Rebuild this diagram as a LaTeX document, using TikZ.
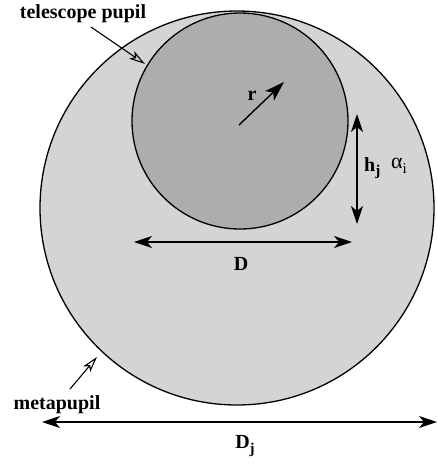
\documentclass[tikz,border=0pt]{standalone}
\usepackage{fontspec}
\setmainfont{Liberation Serif}
\usetikzlibrary{arrows.meta}
\definecolor{metafill}{gray}{0.83}
\definecolor{pupilfill}{gray}{0.68}
\tikzset{
  lbl/.style={font=\bfseries\fontsize{20}{24}\selectfont, inner sep=0pt},
  dim/.style={line width=1.4pt, {Stealth[length=18pt,width=12pt,inset=5pt]}-{Stealth[length=18pt,width=12pt,inset=5pt]}},
  rad/.style={line width=1.4pt, -{Stealth[length=20pt,width=13pt,inset=5pt]}},
  pointer/.style={line width=1.1pt, -{Stealth[open,length=16pt,width=9pt,inset=4pt]}},
  rim/.style={line width=1.3pt, draw=black}
}
\begin{document}
\begin{tikzpicture}[x=1pt,y=-1pt]
\useasboundingbox (0,0) rectangle (437,464);
% circles
\coordinate (C) at (237,208);
\coordinate (c) at (240,121);
\fill[metafill] (C) circle (197);
\draw[rim] (C) circle (197);
\fill[pupilfill] (c) circle (108);
\draw[rim] (c) circle (108);
% radius
\coordinate (r0) at (239,125);
\coordinate (r1) at (284,82);
\draw[rad] (r0) -- (r1);
\node[lbl] (rl) at (252,96) {r};
% h_j
\coordinate (h0) at (357,114);
\coordinate (h1) at (357,224);
\draw[dim] (h0) -- (h1);
\node[lbl, anchor=west] (hl) at (364,168) {h\raisebox{-0.5ex}{\fontsize{15}{16}\selectfont j}};
\node[lbl, anchor=west, font=\fontsize{22}{24}\selectfont] (al) at (391,166) {α\raisebox{-0.5ex}{\fontsize{15}{16}\selectfont i}};
% D
\coordinate (d0) at (134,242);
\coordinate (d1) at (352,242);
\draw[dim] (d0) -- (d1);
\node[lbl] (Dl) at (241,264) {D};
% D_j
\coordinate (e0) at (42,422);
\coordinate (e1) at (437,422);
\draw[dim] (e0) -- (e1);
\node[lbl] (Djl) at (245,446) {D\raisebox{-0.55ex}{\fontsize{15}{16}\selectfont j}};
% labels with pointers
\node[lbl] (tp) at (83,14) {telescope pupil};
\coordinate (tpt) at (145,64);
\draw[pointer] (91,27) -- (tpt);
\node[lbl] (mp) at (57,405) {metapupil};
\coordinate (mpt) at (97,357);
\draw[pointer] (70,389) -- (mpt);
\end{tikzpicture}
\end{document}
